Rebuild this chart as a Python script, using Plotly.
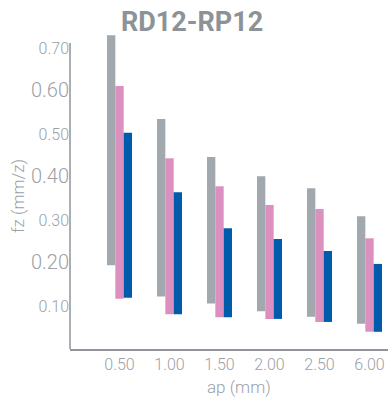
import plotly.graph_objects as go

categories = ["0.50", "1.00", "1.50", "2.00", "2.50", "6.00"]
gray_low = [0.195, 0.122, 0.106, 0.088, 0.075, 0.059]
gray_high = [0.730, 0.535, 0.447, 0.402, 0.374, 0.309]
pink_low = [0.117, 0.081, 0.074, 0.070, 0.063, 0.040]
pink_high = [0.612, 0.444, 0.379, 0.335, 0.326, 0.258]
blue_low = [0.119, 0.081, 0.074, 0.070, 0.063, 0.040]
blue_high = [0.503, 0.365, 0.281, 0.256, 0.228, 0.198]
y_ticks = [0.10, 0.20, 0.30, 0.40, 0.50, 0.60, 0.70]
y_tick_big = [False, True, False, True, False, True, False]

FONT = "Roboto, Liberation Sans, sans-serif"
TXT = "#9ba1a6"
AX = "#8f959a"

xs = list(range(len(categories)))
fig = go.Figure()
for low, high, col in [(gray_low, gray_high, "#a2a9ae"),
                       (pink_low, pink_high, "#dc90bf"),
                       (blue_low, blue_high, "#005bab")]:
    fig.add_trace(go.Bar(x=xs, y=[h - l for h, l in zip(high, low)], base=low,
                         marker=dict(color=col, line=dict(width=0)),
                         showlegend=False, hoverinfo="skip"))

ticktext = [
    (f'<span style="font-size:20px">{v:.2f}</span>' if big else f"{v:.2f}")
    for v, big in zip(y_ticks, y_tick_big)
]

fig.update_layout(
    width=388, height=401,
    margin=dict(l=70, r=0, t=31, b=52, autoexpand=False),
    paper_bgcolor="white", plot_bgcolor="white",
    barmode="group", bargap=0.5, bargroupgap=0,
    font=dict(family=FONT, color=TXT, size=16, weight=300),
    xaxis=dict(range=[-0.99, 5.37], tickmode="array", tickvals=xs, ticktext=categories,
               showgrid=False, zeroline=False, showline=True, linecolor=AX, linewidth=1.5,
               ticks="", automargin=False,
               tickfont=dict(size=16, color=TXT, family=FONT, weight=300)),
    yaxis=dict(range=[0, 0.74], tickmode="array", tickvals=y_ticks, ticktext=ticktext,
               showgrid=False, zeroline=False, showline=False, ticks="", automargin=False,
               tickfont=dict(size=16, color=TXT, family=FONT, weight=300)),
    shapes=[dict(type="line", xref="paper", yref="y", x0=0, x1=0, y0=0, y1=0.712,
                 line=dict(color=AX, width=1.5))],
    annotations=[
        dict(text="RD12-RP12", xref="paper", yref="paper", x=0.3836, y=1.028,
             xanchor="center", yanchor="middle", showarrow=False,
             font=dict(size=27, color="#8c9296", family=FONT, weight=700)),
        dict(text="ap (mm)", xref="paper", yref="paper", x=0.531, y=-0.1195,
             xanchor="center", yanchor="middle", showarrow=False,
             font=dict(size=17, color=TXT, family=FONT, weight=300)),
        dict(text="fz (mm/z)", xref="paper", yref="paper", x=-0.1635, y=0.481,
             xanchor="center", yanchor="middle", showarrow=False, textangle=-90,
             font=dict(size=17, color=TXT, family=FONT, weight=300)),
    ],
)

fig.write_html("out.html", post_script="document.body.style.margin='0';",
               config={"displayModeBar": False})
